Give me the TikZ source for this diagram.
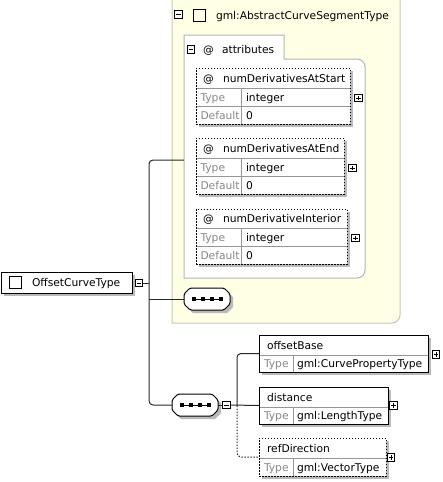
\documentclass[tikz,border=0pt]{standalone}
\usepackage{fontspec}
\setmainfont{DejaVu Sans}
\definecolor{shadowc}{RGB}{185,185,185}
\definecolor{yfill}{RGB}{255,255,230}
\definecolor{yborder}{RGB}{200,200,185}
\definecolor{aborder}{RGB}{180,180,180}
\definecolor{labelgray}{RGB}{135,135,135}
\definecolor{gridgray}{RGB}{150,150,150}
\definecolor{connc}{RGB}{40,40,40}
\newcommand\plusbox[3]{%
  \node[pmbox] (#1) at ({#2},{#3}) {};
  \draw[line width=0.8pt] ([xshift=1.7pt]#1.west) -- ([xshift=-1.7pt]#1.east)
    ([yshift=-1.7pt]#1.north) -- ([yshift=1.7pt]#1.south);}
\newcommand\minusbox[3]{%
  \node[pmbox] (#1) at ({#2},{#3}) {};
  \draw[line width=0.8pt] ([xshift=1.7pt]#1.west) -- ([xshift=-1.7pt]#1.east);}
\newcommand\compositor[5]{%
  \fill[shadowc] (#2+9,#3+3) -- (#4-3,#3+3) -- (#4+3,#3+9) -- (#4+3,#5-3) -- (#4-3,#5+3) -- (#2+9,#5+3) -- (#2+3,#5-3) -- (#2+3,#3+9) -- cycle;
  \draw[line width=1pt, fill=white, rounded corners=1.5pt] (#2+6,#3) -- (#4-6,#3) -- (#4,#3+6) -- (#4,#5-6) -- (#4-6,#5) -- (#2+6,#5) -- (#2,#5-6) -- (#2,#3+6) -- cycle;
  \node[inner sep=0pt, outer sep=0pt, minimum width={(#4-#2)*1pt}, minimum height={(#5-#3)*1pt}] (#1) at ({(#2+#4)/2},{(#3+#5)/2}) {};
  \draw[line width=1pt] ([xshift=-13.5pt]#1.center) -- ([xshift=13.5pt]#1.center);
  \foreach \dx in {-13.5,-4.5,4.5,13.5} \fill ([xshift=\dx pt]#1.center) +(-2,-2) rectangle +(2,2);
}
% attribute box: name, y0, x1, y1, hdiv, tdiv, title
\newcommand\attrbox[7]{%
  \fill[shadowc] (199,#2+3) rectangle (#3+3,#4+3);
  \fill[white] (196,#2) rectangle (#3,#4);
  \draw[grid] (196,#5) -- (#3,#5) (196,#6) -- (#3,#6) (241,#5) -- (241,#4);
  \node[dframe, minimum width={(#3-196)*1pt}, minimum height={(#4-#2)*1pt}] (#1) at (196,#2) {};
  \node[txt] (#1-at) at (203,{(#2+#5)/2+4}) {@};
  \node[txt] (#1-name) at (223,{(#2+#5)/2+4}) {#7};
  \node[gtxt] (#1-tl) at (200.5,{(#5+#6)/2+4}) {Type};
  \node[txt] (#1-tv) at (246,{(#5+#6)/2+4}) {integer};
  \node[gtxt] (#1-dl) at (200.5,{(#6+#4)/2+4}) {Default};
  \node[txt] (#1-dv) at (246,{(#6+#4)/2+4}) {0};
  \plusbox{#1-plus}{#3+8.5}{(#5+#6)/2+1}
}
% element box: name, y0, x1, y1, hdiv, title, type, frame style
\newcommand\elembox[8]{%
  \fill[shadowc] (262,#2+3) rectangle (#3+3,#4+3);
  \fill[white] (259,#2) rectangle (#3,#4);
  \draw[grid] (259,#5) -- (#3,#5) (293,#5) -- (293,#4);
  \node[#8, minimum width={(#3-259)*1pt}, minimum height={(#4-#2)*1pt}] (#1) at (259,#2) {};
  \node[txt] (#1-name) at (267,{(#2+#5)/2+4}) {#6};
  \node[gtxt] (#1-tl) at (264,{(#5+#4)/2+4}) {Type};
  \node[txt] (#1-tv) at (297,{(#5+#4)/2+4}) {#7};
}
\begin{document}
\begin{tikzpicture}[x=1pt,y=-1pt, font=\fontsize{10.7}{12}\selectfont,
  txt/.style={anchor=base west, inner sep=0pt, outer sep=0pt},
  gtxt/.style={txt, text=labelgray},
  pmbox/.style={draw, line width=0.8pt, minimum size=7.5pt, inner sep=0pt, outer sep=0pt, fill=white},
  frame/.style={draw, line width=1pt, inner sep=0pt, outer sep=0pt, anchor=north west},
  dframe/.style={frame, dash pattern=on 1.5pt off 1.5pt},
  grid/.style={draw=gridgray, line width=0.8pt},
  conn/.style={draw=connc, line width=1pt},
  dconn/.style={conn, dash pattern=on 1.5pt off 1.5pt},
  sq/.style={draw, line width=0.8pt, minimum size=12pt, inner sep=0pt, outer sep=0pt, anchor=north west},
]
\useasboundingbox (0,0) rectangle (443,482);
% yellow group
\fill[yfill] (172,-2) -- (172,323) -- (392,323) .. controls (396.4,323) and (400,319.4) .. (400,315) -- (400,-2) -- cycle;
\draw[yborder, line width=1pt] (172,-2) -- (172,323) -- (392,323) .. controls (396.4,323) and (400,319.4) .. (400,315) -- (400,-2);
\minusbox{ghm}{178.5}{14.5}
\node[sq] (ghsq) at (193,9) {};
\node[txt] (ghtxt) at (216,19) {gml:AbstractCurveSegmentType};
% attributes group
\draw[aborder, fill=white, line width=1pt] (184,278) -- (184,35) -- (284,35) -- (284,59) -- (357,59) .. controls (361.4,59) and (365,62.6) .. (365,67) -- (365,270) .. controls (365,274.4) and (361.4,278) .. (357,278) -- cycle;
\coordinate (attrL) at (184,160);
\minusbox{agm}{191}{49.5}
\node[txt] (agat) at (203,53) {@};
\node[txt] (agtxt) at (222,53) {attributes};
\attrbox{a1}{68}{350}{124}{88}{106}{numDerivativesAtStart}
\attrbox{a2}{138}{344}{194}{158}{176}{numDerivativesAtEnd}
\attrbox{a3}{209}{347}{264}{228}{246}{numDerivativeInterior}
% compositors
\compositor{seqa}{184}{288}{230}{310}
\compositor{seqb}{172}{394}{218}{416}
\minusbox{seqbm}{226.5}{405}
% main node
\fill[shadowc] (4,275) rectangle (135,296);
\node[frame, fill=white, minimum width=131pt, minimum height=21pt] (main) at (1,272) {};
\node[sq] (mainsq) at (9.5,276) {};
\node[txt] (mainlbl) at (32,286.5) {OffsetCurveType};
\minusbox{mainm}{139}{283}
% elements
\elembox{ob}{335}{428}{372}{355}{offsetBase}{gml:CurvePropertyType}{frame}
\plusbox{obp}{436}{354.5}
\elembox{dist}{387}{388}{424}{407}{distance}{gml:LengthType}{frame}
\plusbox{distp}{393.5}{405.5}
\elembox{ref}{438}{386}{476}{458}{refDirection}{gml:VectorType}{dframe}
\plusbox{refp}{391}{457.5}
% connectors
\coordinate (tA) at (149,160);
\coordinate (tB) at (149,405);
\draw[conn] (mainm.east) -- (149,283);
\draw[conn, rounded corners=4pt] (attrL) -- (tA) -- (tB) -- (seqb.west);
\draw[conn] (149,299) -- (seqa.west);
\draw[conn] (seqb.east) -- (seqbm.west);
\coordinate (uA) at (237,353.5);
\coordinate (uB) at (237,405.5);
\coordinate (uC) at (237,457);
\draw[conn, rounded corners=4pt] (ob.west) -- (uA) -- (uB);
\draw[conn] (seqbm.east) -- (dist.west);
\draw[dconn, rounded corners=4pt] (uB) -- (uC) -- (ref.west);
\end{tikzpicture}
\end{document}
